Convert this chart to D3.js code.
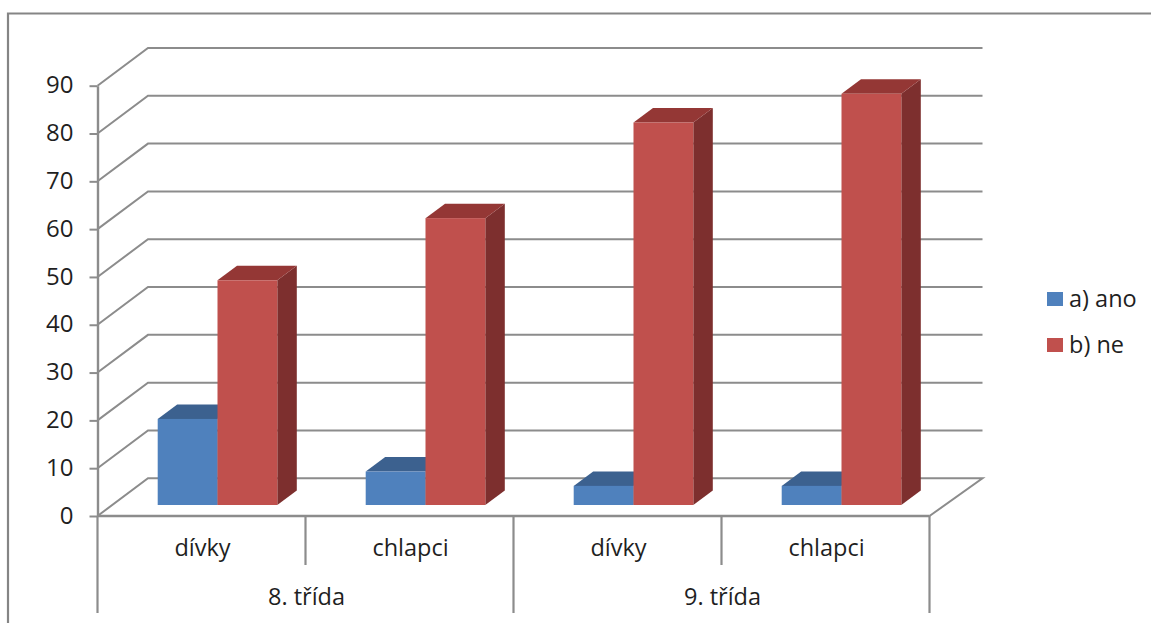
<!DOCTYPE html>
<html lang="cs">
<head>
<meta charset="utf-8">
<title>8. a 9. třída</title>
<script src="https://cdn.jsdelivr.net/npm/d3@7/dist/d3.min.js"></script>
<style>
  html, body { margin: 0; padding: 0; background: #fff; }
  svg { display: block; }
  text { font-family: "Open Sans", Lato, sans-serif; font-size: 23.5px; fill: #1f1f1f; }
</style>
</head>
<body>
<svg id="chart" width="1151" height="623"></svg>
<script>
// Survey answers per class and gender
const grades = ["8. třída", "9. třída"];
const groups = ["dívky", "chlapci", "dívky", "chlapci"];
const seriesNames = ["a) ano", "b) ne"];
const ano = [18, 7, 4, 4];
const ne = [47, 60, 80, 86];
const yTicks = [0, 10, 20, 30, 40, 50, 60, 70, 80, 90];

const lineGrey = "#8c8c8c";
const faces = [
  { front: "#4f81bd", top: "#3c618f", side: "#2f4d72" },
  { front: "#c0504d", top: "#943735", side: "#7d2f2e" }
];

const svg = d3.select("#chart");

// Front plane of the oblique 3D box
const y = d3.scaleLinear().domain([0, 90]).range([516, 85.7]);
const x = d3.scaleBand().domain(d3.range(groups.length)).range([97.5, 929.5]);
const depthX = 50.5, depthY = 37.7, backRight = 982.5;
// Depth of a bar's front face and of the bar itself inside the box
const barShiftX = 16, barShiftY = 11, barDepthX = 19.5, barDepthY = 14.5;

const lines = (sel, d, w) => sel.append("path").attr("d", d)
  .attr("fill", "none").attr("stroke", lineGrey).attr("stroke-width", w === undefined ? 2 : w);

// Chart frame: top and left edges only
lines(svg, "M8,623V13.5H1151", 2.2).attr("stroke", "#858585");

// Back wall gridlines with their diagonals on the side wall
const grid = svg.append("g");
yTicks.forEach(t => {
  const yy = y(t);
  const pts = [
    [x.range()[0], yy],
    [x.range()[0] + depthX, yy - depthY],
    [backRight, yy - depthY]
  ];
  if (t === 0) pts.push([x.range()[1], yy]);
  lines(grid, d3.line()(pts));
});

// Value axis
const yAxis = d3.axisLeft(y).tickValues(yTicks).tickSize(8).tickPadding(16).tickSizeOuter(0);
const yG = svg.append("g").attr("transform", `translate(${x.range()[0]},0)`).call(yAxis);
yG.select(".domain").attr("stroke", lineGrey).attr("stroke-width", 2.4);
yG.selectAll(".tick line").attr("stroke", lineGrey).attr("stroke-width", 2);
yG.selectAll(".tick text").attr("dy", "0.3em").style("font-size", "24px").style("fill", "#1f1f1f")
  .style("font-family", "'Open Sans', Lato, sans-serif");

// Category axis baseline and the two-level dividers
lines(svg, `M${x.range()[0]},${y(0)}H${x.range()[1]}`, 2.4);
const innerBottom = 565, outerBottom = 613;
groups.forEach((g, i) => {
  const left = x(i);
  const isOuter = i % 2 === 0;
  lines(svg, `M${left},${y(0)}V${isOuter ? outerBottom : innerBottom}`, 2.2);
  svg.append("text").attr("x", left + x.bandwidth() / 2 + 1).attr("y", 556)
    .attr("text-anchor", "middle").text(g);
});
lines(svg, `M${x.range()[1]},${y(0)}V${outerBottom}`, 2.2);
grades.forEach((g, i) => {
  svg.append("text").attr("x", x(i * 2) + x.bandwidth() + 1).attr("y", 605)
    .attr("text-anchor", "middle").text(g);
});

// 3D columns: each series takes half of the column cluster
const inner = d3.scaleBand().domain([0, 1]).range([0, 119.6]);
const poly = pts => d3.line()(pts) + "Z";
const scaleUnit = y(0) - y(1);

[ano, ne].forEach((values, s) => {
  const g = svg.append("g");
  values.forEach((v, i) => {
    const x0 = x(i) + (x.bandwidth() - inner.range()[1]) / 2 + barShiftX + inner(s);
    const x1 = x0 + inner.bandwidth();
    const base = y(0) - barShiftY;
    const top = base - v * scaleUnit;
    g.append("path").attr("fill", faces[s].side).attr("d", poly([
      [x1, base], [x1 + barDepthX, base - barDepthY], [x1 + barDepthX, top - barDepthY], [x1, top]
    ]));
    g.append("path").attr("fill", faces[s].top).attr("d", poly([
      [x0, top], [x0 + barDepthX, top - barDepthY], [x1 + barDepthX, top - barDepthY], [x1, top]
    ]));
    g.append("rect").attr("fill", faces[s].front)
      .attr("x", x0).attr("y", top).attr("width", x1 - x0).attr("height", base - top);
  });
});

// Legend
seriesNames.forEach((name, i) => {
  const ly = 292 + i * 46;
  svg.append("rect").attr("x", 1047).attr("y", ly).attr("width", 16).attr("height", 14)
    .attr("fill", faces[i].front);
  svg.append("text").attr("x", 1069).attr("y", ly + 15).text(name);
});
</script>
</body>
</html>
